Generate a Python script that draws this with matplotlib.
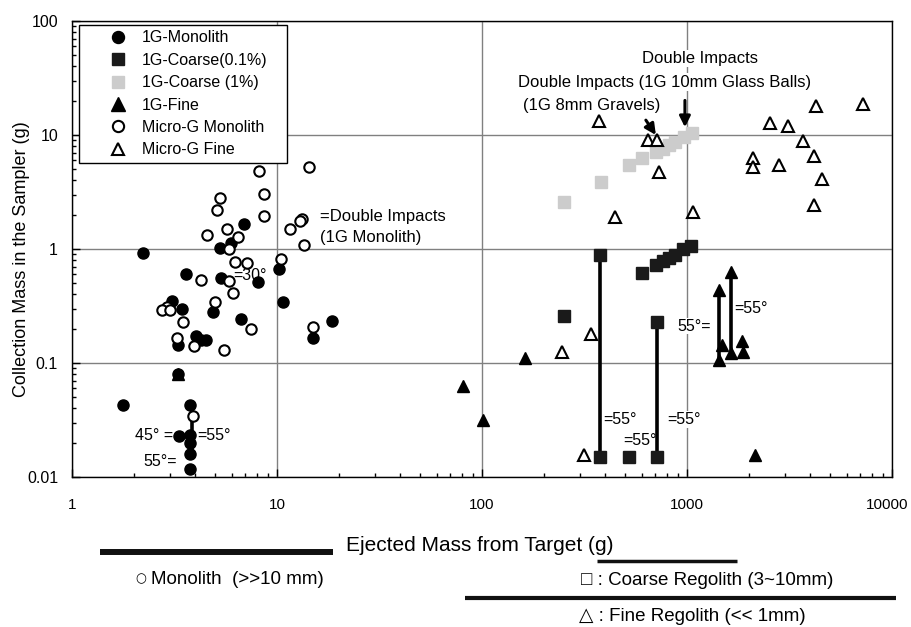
import matplotlib
matplotlib.use("Agg")
import matplotlib.pyplot as plt
from matplotlib.patches import Rectangle
from matplotlib.lines import Line2D
import matplotlib.transforms as mtransforms
from matplotlib.ticker import FixedLocator, FixedFormatter, LogLocator, NullFormatter

plt.rcParams['font.family'] = ['Liberation Sans', 'DejaVu Sans']

# ---------------- data ----------------
mono1g_x = [2.23, 6.93, 5.94, 5.27, 3.6, 5.33, 8.1, 10.2, 3.06, 3.45, 4.86, 10.7, 6.65,
            18.5, 14.9, 3.3, 4.03, 4.24, 4.49, 3.3, 1.77, 3.76, 3.33, 3.76, 3.76, 3.76, 3.76]
mono1g_y = [0.92, 1.65, 1.14, 1.03, 0.60, 0.56, 0.51, 0.67, 0.35, 0.30, 0.28, 0.34, 0.244,
            0.234, 0.166, 0.145, 0.171, 0.158, 0.158, 0.080, 0.043, 0.043, 0.0229, 0.0235,
            0.020, 0.016, 0.0118]

monomg_x = [14.4, 8.17, 8.64, 5.27, 5.12, 8.64, 13.3, 12.9, 11.6, 5.68, 4.54, 6.48, 13.6,
            5.8, 10.5, 6.24, 7.11, 4.26, 5.85, 6.12, 4.99, 2.9, 2.74, 3.0, 3.49, 7.47, 15.0,
            3.24, 3.94, 5.53, 3.91]
monomg_y = [5.19, 4.81, 3.03, 2.81, 2.22, 1.95, 1.82, 1.76, 1.50, 1.50, 1.34, 1.27, 1.08,
            0.99, 0.82, 0.765, 0.75, 0.53, 0.52, 0.41, 0.34, 0.31, 0.29, 0.29, 0.23, 0.20,
            0.205, 0.167, 0.142, 0.129, 0.034]

coarse01_x = [378, 601, 706, 761, 820, 874, 960, 1041, 252, 716, 378, 523, 716]
coarse01_y = [0.886, 0.61, 0.72, 0.785, 0.83, 0.886, 1.0, 1.07, 0.26, 0.229, 0.0149, 0.015, 0.015]

coarse1_x = [251, 379, 523, 601, 706, 761, 820, 874, 970, 1062]
coarse1_y = [2.56, 3.88, 5.43, 6.3, 7.1, 7.6, 8.1, 8.7, 9.7, 10.5]

fine1g_x = [3.3, 80.5, 101.5, 163, 1438, 1487, 1633, 1849, 1884, 1438, 1633, 2147]
fine1g_y = [0.08, 0.063, 0.0315, 0.111, 0.107, 0.145, 0.122, 0.155, 0.126, 0.44, 0.63, 0.0155]

finemg_x = [371, 647, 716, 733, 444, 1073, 4260, 7245, 2541, 3100, 3690, 2106, 2106, 2820,
            4170, 4575, 4170, 339, 245, 315]
finemg_y = [13.4, 9.0, 9.0, 4.75, 1.92, 2.12, 17.8, 18.8, 12.7, 12.1, 8.8, 6.3, 5.25, 5.5,
            6.6, 4.15, 2.43, 0.18, 0.125, 0.0155]

# vertical connector bars (x, y from, y to)
bar_x = [3.85, 378, 716, 1438, 1633]
bar_y0 = [0.016, 0.015, 0.015, 0.107, 0.122]
bar_y1 = [0.043, 0.886, 0.229, 0.44, 0.63]

# size-class ranges shown below the axis (ejected mass, g)
range_lo = [1.37, 362, 82.6]
range_hi = [18.8, 1759, 10420]

x_ticks = [1, 10, 100, 1000, 10000]
x_ticklabels = ['1', '10', '100', '1000', '10000']
y_ticks = [0.01, 0.1, 1, 10, 100]
y_ticklabels = ['0.01', '0.1', '1', '10', '100']

legend_labels = ['1G-Monolith', '1G-Coarse(0.1%)', '1G-Coarse (1%)', '1G-Fine',
                 'Micro-G Monolith', 'Micro-G Fine']

# ---------------- figure ----------------
fig = plt.figure(figsize=(9.11, 6.27), dpi=100)
ax = fig.add_axes([72 / 911, 150 / 627, 820 / 911, 456 / 627])
ax.set_xscale('log')
ax.set_yscale('log')
ax.set_xlim(1, 10000)
ax.set_ylim(0.01, 100)

ax.grid(True, which='major', color='#808080', lw=1.0, zorder=0.5)
ax.set_axisbelow(True)

ax.vlines(bar_x, bar_y0, bar_y1, colors='black', lw=2.6, zorder=3)

h1, = ax.plot(mono1g_x, mono1g_y, 'o', ms=8, color='black', mec='black', zorder=4)
h2, = ax.plot(coarse01_x, coarse01_y, 's', ms=8, color='#1a1a1a', mec='#1a1a1a', zorder=4)
h3, = ax.plot(coarse1_x, coarse1_y, 's', ms=8, color='#cccccc', mec='#cccccc', zorder=4)
h4, = ax.plot(fine1g_x, fine1g_y, '^', ms=9, color='black', mec='black', zorder=4)
h5, = ax.plot(monomg_x, monomg_y, 'o', ms=7.5, mfc='white', mec='black', mew=1.5, zorder=5)
h6, = ax.plot(finemg_x, finemg_y, '^', ms=8, mfc='white', mec='black', mew=1.5, zorder=5)

# ticks
ax.xaxis.set_major_locator(FixedLocator(x_ticks))
ax.xaxis.set_major_formatter(FixedFormatter(x_ticklabels))
ax.yaxis.set_major_locator(FixedLocator(y_ticks))
ax.yaxis.set_major_formatter(FixedFormatter(y_ticklabels))
ax.xaxis.set_minor_locator(LogLocator(base=10, subs=range(2, 10), numticks=20))
ax.yaxis.set_minor_locator(LogLocator(base=10, subs=range(2, 10), numticks=20))
ax.xaxis.set_minor_formatter(NullFormatter())
ax.yaxis.set_minor_formatter(NullFormatter())
ax.tick_params(which='both', direction='in', top=False, right=False, width=1)
ax.tick_params(axis='y', labelsize=11.5)
ax.tick_params(axis='x', labelsize=11)
ax.tick_params(which='major', length=6)
ax.tick_params(which='minor', length=3)
ax.tick_params(axis='x', which='both', pad=15)
ax.tick_params(axis='y', which='both', pad=10)
for s in ax.spines.values():
    s.set_linewidth(1.0)

# keep the last x tick label inside the figure
fig.canvas.draw()
last = ax.get_xticklabels()[-1]
last.set_transform(last.get_transform() + mtransforms.ScaledTranslation(-5 / 100, 0, fig.dpi_scale_trans))

# axis labels
ax.set_xlabel('Ejected Mass from Target (g)', fontsize=15, va='center')
ax.xaxis.set_label_coords(0.497, -0.1513)
ax.set_ylabel('Collection Mass in the Sampler (g)', fontsize=13, va='center')
ax.yaxis.set_label_coords(-0.062, 0.477)

# annotations inside plot
box = dict(facecolor='white', edgecolor='none', pad=1)
ann = [
    ('=30°', 6.1, 0.58, 'left'),
    ('45° =', 3.11, 0.023, 'right'),
    ('=55°', 4.1, 0.023, 'left'),
    ('55°=', 3.25, 0.0136, 'right'),
    ('=55°', 389, 0.032, 'left'),
    ('=55°', 487, 0.021, 'left'),
    ('=55°', 798, 0.032, 'left'),
    ('55°=', 1309, 0.21, 'right'),
    ('=55°', 1695, 0.30, 'left'),
]
for t, x, y, ha in ann:
    ax.text(x, y, t, ha=ha, va='center', fontsize=11.5, zorder=2.5,
            bbox=dict(facecolor='white', edgecolor='none', pad=0.5))

ax.text(16.2, 1.56, '=Double Impacts\n(1G Monolith)', ha='left', va='center',
        fontsize=12, linespacing=1.45, zorder=2.5, bbox=box)
ax.text(601, 46.9, 'Double Impacts', ha='left', va='center', fontsize=12, zorder=2.5, bbox=box)
ax.text(150, 29.1, 'Double Impacts (1G 10mm Glass Balls)', ha='left', va='center',
        fontsize=12, zorder=2.5, bbox=box)
ax.text(158, 18.2, '(1G 8mm Gravels)', ha='left', va='center', fontsize=12, zorder=2.5, bbox=box)

arrow = dict(arrowstyle='-|>', lw=2.2, color='black', mutation_scale=16, shrinkA=0, shrinkB=0)
ax.annotate('', xy=(977, 11.7), xytext=(977, 20.1), arrowprops=arrow, zorder=6)
ax.annotate('', xy=(705, 10.0), xytext=(630, 13.5), arrowprops=arrow, zorder=6)

# legend (frame drawn separately)
ax.add_patch(Rectangle((0.00854, 0.6886), 0.2536, 0.3026, transform=ax.transAxes,
                       facecolor='white', edgecolor='black', lw=1.0, zorder=7))
leg = ax.legend([h1, h2, h3, h4, h5, h6], legend_labels, loc='upper left',
                bbox_to_anchor=(0.0356, 0.9897), frameon=False, fontsize=11.5,
                handlelength=1.5, handletextpad=0.75, borderpad=0.3, labelspacing=0.46,
                borderaxespad=0, numpoints=1, markerscale=1.08)
leg.set_zorder(8)

# size-class range bars below the axis
trans = mtransforms.blended_transform_factory(ax.transData, ax.transAxes)
bar_yax = [-0.1638, -0.1836, -0.266]
bar_lw = [4.3, 2.5, 3.0]
for lo, hi, yy, lw in zip(range_lo, range_hi, bar_yax, bar_lw):
    ax.add_line(Line2D([lo, hi], [yy, yy], transform=trans, color='#111111', lw=lw,
                       clip_on=False, solid_capstyle='butt'))

ax.text(0.0835, -0.2237, '○', transform=ax.transAxes, ha='center', va='center',
        fontsize=9, family=['DejaVu Sans'])
ax.text(0.0960, -0.2237, 'Monolith  (>>10 mm)', transform=ax.transAxes, ha='left',
        va='center', fontsize=13.5)
ax.text(0.6204, -0.2259, '□ : Coarse Regolith (3~10mm)', transform=ax.transAxes,
        ha='left', va='center', fontsize=13.5)
ax.text(0.6183, -0.3064, '△ : Fine Regolith (<< 1mm)', transform=ax.transAxes,
        ha='left', va='center', fontsize=13.5)

fig.savefig('out.png', dpi=100)
